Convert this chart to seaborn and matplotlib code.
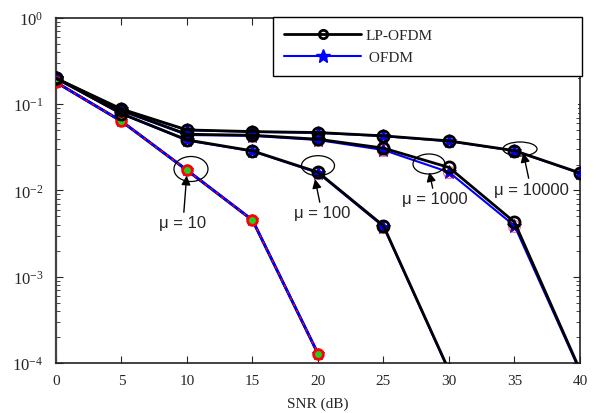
import numpy as np
import matplotlib
matplotlib.use("Agg")
import matplotlib.pyplot as plt
import seaborn as sns
from matplotlib.lines import Line2D
from matplotlib.patches import Ellipse, Rectangle
from matplotlib.ticker import LogLocator, FixedLocator, NullFormatter

# ---------------- data ----------------
snr_mu10 = [0, 5, 10, 15, 20]
ber_mu10 = [0.18, 0.0635, 0.0172, 0.00453, 0.000128]

snr_mu100 = [0, 5, 10, 15, 20, 25, 30]
lp_mu100 = [0.2, 0.078, 0.0386, 0.0288, 0.0163, 0.0039, 0.000082]
of_mu100 = [0.2, 0.077, 0.0380, 0.0285, 0.0160, 0.0038, 0.000080]

snr_mu1000 = [0, 5, 10, 15, 20, 25, 30, 35, 40]
lp_mu1000 = [0.2, 0.085, 0.0449, 0.0437, 0.0393, 0.031, 0.0185, 0.0043, 0.000083]
of_mu1000 = [0.2, 0.084, 0.0440, 0.0430, 0.0385, 0.0295, 0.0163, 0.0039, 0.000080]

snr_mu10000 = [0, 5, 10, 15, 20, 25, 30, 35, 40]
lp_mu10000 = [0.2, 0.088, 0.0504, 0.0482, 0.047, 0.043, 0.0376, 0.0290, 0.0160]
of_mu10000 = [0.2, 0.087, 0.0500, 0.0478, 0.0466, 0.0427, 0.0372, 0.0288, 0.0158]

x_ticks = [0, 5, 10, 15, 20, 25, 30, 35, 40]
legend_labels = ["LP-OFDM", " OFDM"]
mu_labels = ["\u03bc = 10", "\u03bc = 100", "\u03bc = 1000", "\u03bc = 10000"]

# ---------------- style ----------------
sns.set_style("ticks")
plt.rcParams["font.family"] = ["Liberation Serif", "DejaVu Serif"]
plt.rcParams["mathtext.fontset"] = "custom"
plt.rcParams["mathtext.rm"] = "Liberation Serif"
plt.rcParams["mathtext.it"] = "Liberation Serif:italic"
plt.rcParams["xtick.direction"] = "in"
plt.rcParams["ytick.direction"] = "in"

fig = plt.figure(figsize=(5.97, 4.14), dpi=100)
ax = fig.add_axes([0.0938, 0.1208, 0.8777, 0.8333])
ax.set_yscale("log")

black_kw = dict(color="black", lw=2.0, marker="o", markersize=8,
                markerfacecolor="none", markeredgecolor="black",
                markeredgewidth=2.0)
blue_kw = dict(color="blue", lw=1.5, marker="*", markersize=10,
               markerfacecolor="blue", markeredgecolor="blue")

# mu = 10 : all curves overlap, blue on top with red dashed overlay
sns.lineplot(x=snr_mu10, y=ber_mu10, ax=ax, color="black", lw=2.0, zorder=2)
sns.lineplot(x=snr_mu10, y=ber_mu10, ax=ax, color="blue", lw=2.0, zorder=3,
             marker="*", markersize=9, markerfacecolor="blue", markeredgecolor="blue")
sns.lineplot(x=snr_mu10, y=ber_mu10, ax=ax, color="red", lw=1.0, ls=(0, (2, 3)),
             zorder=4, marker="o", markersize=7, markerfacecolor="#22cc22",
             markeredgecolor="red", markeredgewidth=2.0)

for s, lp, of in [(snr_mu100, lp_mu100, of_mu100),
                  (snr_mu1000, lp_mu1000, of_mu1000),
                  (snr_mu10000, lp_mu10000, of_mu10000)]:
    sns.lineplot(x=s, y=of, ax=ax, zorder=3, **blue_kw)
    sns.lineplot(x=s, y=of, ax=ax, zorder=3.5, color="red", lw=0, marker="o",
                 markersize=8.5, markerfacecolor="none", markeredgecolor="red",
                 markeredgewidth=1.0, alpha=0.5)
    sns.lineplot(x=s, y=lp, ax=ax, zorder=4, **black_kw)

ax.set_xlim(0, 40)
ax.set_ylim(1e-4, 1)
ax.xaxis.set_major_locator(FixedLocator(x_ticks))
ax.set_xticklabels([str(t) for t in x_ticks], fontsize=11)
ax.yaxis.set_major_locator(LogLocator(base=10, numticks=10))
ax.yaxis.set_minor_locator(LogLocator(base=10, subs=np.arange(2, 10), numticks=10))
ax.yaxis.set_minor_formatter(NullFormatter())
ax.tick_params(axis="y", which="major", labelsize=12, length=5, width=0.8,
               left=True, right=True, pad=9)
ax.tick_params(axis="y", which="minor", length=3, width=0.6, left=True, right=True)
ax.tick_params(axis="x", which="major", length=5, width=0.8, top=True, bottom=True,
               pad=8)
ax.minorticks_on()
ax.xaxis.set_minor_locator(FixedLocator([]))
for sp in ax.spines.values():
    sp.set_linewidth(1.2)
    sp.set_color("#222222")
    sp.set_visible(True)
ax.spines["left"].set_color("#444444")
ax.spines["left"].set_linewidth(1.6)
ax.set_xlabel("SNR (dB)", fontsize=11, labelpad=7)

# white patch below legend hiding the right ticks
ax.add_patch(Rectangle((0.414, 0.72), 0.583, 0.29, transform=ax.transAxes,
                       facecolor="white", edgecolor="none", zorder=5, clip_on=False))

# legend
handles = [Line2D([], [], color="black", lw=2.0, marker="o", markersize=6,
                  markerfacecolor="none", markeredgecolor="black", markeredgewidth=2.0),
           Line2D([], [], color="blue", lw=1.5, marker="*", markersize=10,
                  markerfacecolor="blue", markeredgecolor="blue")]
leg = ax.legend(handles, legend_labels, loc="upper left",
                bbox_to_anchor=(0.414, 1.003, 0.59, 0), mode="expand",
                borderaxespad=0, fancybox=False, framealpha=1, edgecolor="black",
                fontsize=11, handlelength=5.0, handletextpad=0.3,
                labelspacing=0.55, borderpad=0.75, numpoints=1)
leg.get_frame().set_linewidth(1.0)
leg.set_zorder(10)

# annotations: ellipses and arrows (axes-fraction coords)
ellipses = [((0.2576, 0.5623), 0.0649, 0.0725),
            ((0.5000, 0.5719), 0.0630, 0.0580),
            ((0.7118, 0.5768), 0.0610, 0.0580),
            ((0.8855, 0.6203), 0.0650, 0.0406)]
for c, w, h in ellipses:
    ax.add_patch(Ellipse(c, w, h, transform=ax.transAxes, fill=False,
                         edgecolor="black", lw=0.9, zorder=6))

arrows = [((0.2424, 0.4058), (0.2494, 0.5429)),
          ((0.5076, 0.4348), (0.4943, 0.5333)),
          ((0.7233, 0.4754), (0.7124, 0.5528)),
          ((0.9065, 0.5043), (0.8918, 0.6087))]
for lbl, (txt, tip) in zip(mu_labels, arrows):
    ax.annotate(lbl, xy=tip, xytext=txt, xycoords="axes fraction",
                textcoords="axes fraction", ha="center", va="center",
                fontsize=12, family=["Liberation Sans", "DejaVu Sans"], zorder=7,
                arrowprops=dict(arrowstyle="-|>,head_length=0.6,head_width=0.3",
                                color="black", lw=1.0,
                                mutation_scale=9, shrinkA=0, shrinkB=0))

fig.savefig("out.png", dpi=100)
